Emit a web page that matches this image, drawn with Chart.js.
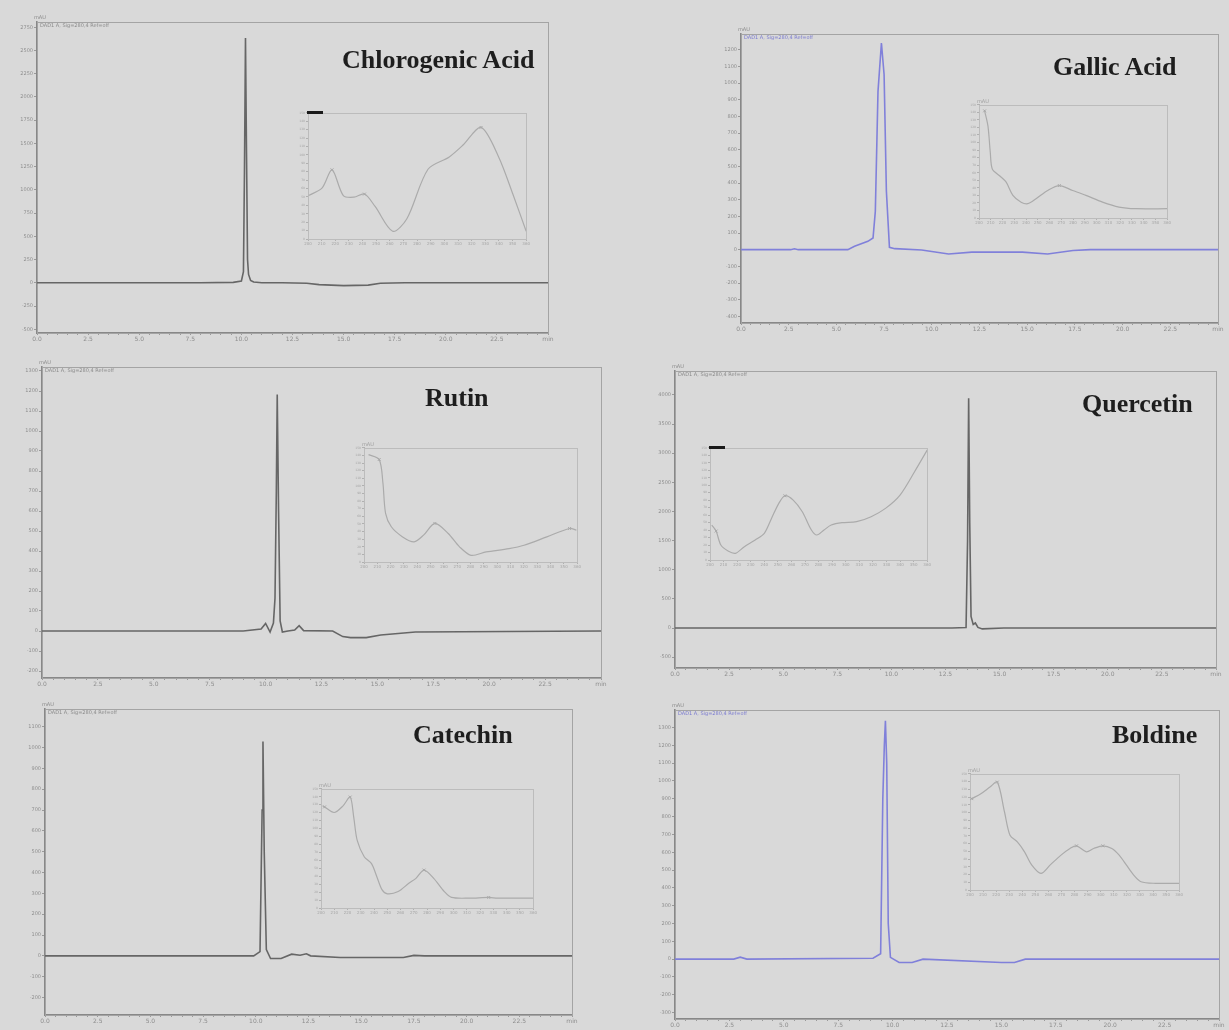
<!DOCTYPE html>
<html><head><meta charset="utf-8">
<script src="https://cdn.jsdelivr.net/npm/chart.js@4.4.1/dist/chart.umd.min.js"></script>
<style>
html,body{margin:0;padding:0;background:#d9d9d9;}
#page{position:relative;width:1229px;height:1030px;background:#d9d9d9;overflow:hidden;}
canvas{position:absolute;}
.title{position:absolute;font-family:"Liberation Serif","Times New Roman",serif;font-weight:bold;font-size:26px;color:#1e1e1e;white-space:nowrap;line-height:1;}
.tiny{position:absolute;font-family:"DejaVu Sans",sans-serif;font-size:5px;color:#8a8a8a;white-space:nowrap;line-height:1;}
.bar{position:absolute;background:#1a1a1a;height:3px;}
</style></head><body><div id="page"></div>
<script>
// ---------------- DATA ----------------
const timeTicksMin = [0, 2.5, 5, 7.5, 10, 12.5, 15, 17.5, 20, 22.5];
const xUnitLabel = 'min';
const yUnitLabel = 'mAU';
const compoundNames = ['Chlorogenic Acid', 'Gallic Acid', 'Rutin', 'Quercetin', 'Catechin', 'Boldine'];

// Chromatograms (retention time in min, signal in mAU)
const chlorogenicTime   = [0, 2, 5, 8, 9.6, 10.0, 10.1, 10.15, 10.2, 10.25, 10.3, 10.35, 10.45, 10.6, 11, 12, 13.2, 13.8, 15, 16.2, 16.8, 18, 25];
const chlorogenicSignal = [0, 0, 0, 0, 5, 20, 120, 1200, 2633, 1400, 250, 90, 25, 8, 0, 0, -5, -20, -30, -25, -5, 0, 0];

const gallicTime   = [0, 2.6, 2.8, 3.0, 5.6, 5.95, 6.65, 6.92, 7.04, 7.18, 7.36, 7.5, 7.62, 7.78, 8.06, 9.47, 10.88, 12.1, 14.75, 16.07, 17.4, 18.3, 25];
const gallicSignal = [0, 0, 5, 0, 0, 20, 50, 70, 230, 950, 1240, 1050, 350, 14, 6, -2, -26, -15, -15, -26, -5, 0, 0];

const rutinTime   = [0, 2.7, 9.0, 9.8, 10.0, 10.2, 10.35, 10.42, 10.48, 10.52, 10.58, 10.65, 10.75, 11.0, 11.3, 11.5, 11.7, 13.0, 13.45, 13.8, 14.5, 15.15, 16.7, 25];
const rutinSignal = [0, 0, 0, 10, 38, -5, 40, 163, 700, 1183, 600, 50, -5, 0, 5, 27, 2, 0, -28, -33, -33, -20, -5, 0];

const quercetinTime   = [0, 12.8, 13.45, 13.52, 13.57, 13.62, 13.68, 13.78, 13.88, 14.0, 14.2, 15.2, 25];
const quercetinSignal = [0, 0, 10, 1500, 3943, 1800, 200, 60, 86, 10, -15, 0, 0];

const catechinTime   = [0, 9.9, 10.2, 10.3, 10.34, 10.4, 10.5, 10.7, 11.2, 11.7, 12.1, 12.4, 12.6, 14, 17, 17.5, 18, 25];
const catechinSignal = [0, 0, 20, 700, 1029, 500, 30, -13, -13, 8, 3, 10, 0, -8, -8, 2, 0, 0];

const boldineTime   = [0, 2.7, 3.0, 3.3, 9.1, 9.45, 9.55, 9.62, 9.67, 9.73, 9.8, 9.9, 10.3, 10.9, 11.4, 15.0, 15.6, 16.1, 25];
const boldineSignal = [0, 0, 11, 0, 5, 30, 900, 1200, 1338, 1100, 200, 10, -19, -19, 0, -19, -19, 0, 0];

// UV spectra insets (wavelength nm, absorbance mAU)
const chlorogenicNm  = [200.5, 210.4, 217.6, 225.9, 233.7, 241.4, 249.2, 262.1, 272.5, 288, 303.6, 313.9, 326.9, 339.8, 350.2, 360];
const chlorogenicAbs = [51.6, 60.8, 82.2, 51.6, 49.7, 53.4, 38.7, 9.2, 24, 82.9, 97.6, 112, 132.6, 97.6, 53.4, 9.2];
const chlorogenicMaxNm = [217.6, 241.4, 326.9];
const chlorogenicMaxAbs = [82.2, 53.4, 132.6];

const gallicNm  = [204.8, 207.6, 209.6, 211.3, 217.5, 223.1, 228.8, 235.8, 241.5, 248.5, 258.4, 268.3, 279.6, 290.9, 305, 319, 333.2, 360];
const gallicAbs = [142, 122, 87, 65, 56, 47.5, 30, 21, 19, 25.5, 36.5, 43, 36.5, 30, 21, 14.5, 12.3, 12.3];
const gallicMaxNm = [204.8, 268.3];
const gallicMaxAbs = [142, 43];

const rutinNm  = [203.4, 211.4, 214.2, 216.2, 220.5, 229, 237.6, 244.7, 253.2, 263.2, 271.7, 280.3, 291.7, 308.8, 320.1, 337.2, 354.3, 359.4];
const rutinAbs = [141, 134.6, 103.7, 64, 46.3, 33, 26.5, 35.3, 50.7, 37.5, 19.9, 8.8, 13.2, 17.6, 22, 33, 44, 41.9];
const rutinMaxNm = [211.4, 253.2, 354.3];
const rutinMaxAbs = [134.6, 50.7, 44];

const quercetinNm  = [201.3, 204.5, 208, 213.3, 218.7, 225.3, 233.3, 240, 245.3, 250.7, 255.2, 261.3, 268, 274.7, 278.7, 284, 289.3, 297.3, 308, 318.7, 329.3, 340, 350.7, 360];
const quercetinAbs = [46.7, 38.7, 20, 12, 8.9, 17.8, 26.7, 35.6, 55.6, 75.7, 85.9, 80.1, 64.5, 40.1, 33.4, 40.1, 46.7, 49.9, 51.2, 57.9, 69, 86.8, 118, 146.9];
const quercetinMaxNm = [204.5, 255.2];
const quercetinMaxAbs = [38.7, 85.9];

const catechinNm  = [201.3, 202.7, 209.9, 216.6, 222, 224.7, 227.3, 232.7, 238.1, 242.1, 246.1, 250.1, 258.2, 266.2, 271.6, 277.7, 285, 293, 298.4, 311.8, 326.5, 333.2, 360];
const catechinAbs = [128.5, 127.2, 120.2, 128.5, 139.6, 114, 85, 64.2, 55.9, 39.4, 22.8, 17.8, 20.7, 31.1, 37.3, 47.7, 37.3, 20.7, 13.3, 12.4, 13.3, 12.4, 12.4];
const catechinMaxNm = [202.7, 222, 277.7, 326.5];
const catechinMaxAbs = [127.2, 139.6, 47.7, 13.3];

const boldineNm  = [201.4, 208.3, 215.3, 220.9, 226.4, 230.6, 236.2, 241.7, 247.3, 254.3, 261.2, 269.6, 276.5, 281.5, 289, 294.6, 301.6, 308.5, 314.1, 319.7, 325.2, 330.8, 341.9, 360];
const boldineAbs = [117.9, 124.3, 132.9, 139.3, 100.7, 70.7, 62.1, 49.3, 32.1, 21.4, 32.1, 45, 53.6, 57, 49.3, 53.6, 57, 53.6, 45, 32.1, 19.3, 10.7, 8.6, 8.6];
const boldineMaxNm = [201.4, 220.9, 281.5, 301.6];
const boldineMaxAbs = [117.9, 139.3, 57, 57];

// Axis ranges (mAU) and tick steps
const signalMin  = [-540, -440, -235, -686, -284, -336];
const signalMax  = [2806, 1294, 1320, 4410, 1185, 1398];
const signalStep = [250, 100, 100, 500, 100, 100];

// ---------------- LAYOUT ----------------
const page = document.getElementById('page');
const GRAY = '#666666', BLUE = '#8080da';
const panels = [
  {name:compoundNames[0], t:chlorogenicTime, y:chlorogenicSignal, color:GRAY, box:[37,22,548,333],
   nm:chlorogenicNm, abs:chlorogenicAbs, mx:chlorogenicMaxNm, my:chlorogenicMaxAbs, ibox:[308,112,527,239], bar:true,
   title:[342,47], legendBlue:false},
  {name:compoundNames[1], t:gallicTime, y:gallicSignal, color:BLUE, box:[741,34,1218,323],
   nm:gallicNm, abs:gallicAbs, mx:gallicMaxNm, my:gallicMaxAbs, ibox:[979,104,1168,218], bar:false,
   title:[1053,54], legendBlue:true},
  {name:compoundNames[2], t:rutinTime, y:rutinSignal, color:GRAY, box:[42,367,601,678],
   nm:rutinNm, abs:rutinAbs, mx:rutinMaxNm, my:rutinMaxAbs, ibox:[364,447,578,562], bar:false,
   title:[425,385], legendBlue:false},
  {name:compoundNames[3], t:quercetinTime, y:quercetinSignal, color:GRAY, box:[675,371,1216,668],
   nm:quercetinNm, abs:quercetinAbs, mx:quercetinMaxNm, my:quercetinMaxAbs, ibox:[710,447,928,560], bar:true,
   title:[1082,391], legendBlue:false},
  {name:compoundNames[4], t:catechinTime, y:catechinSignal, color:GRAY, box:[45,709,572,1015],
   nm:catechinNm, abs:catechinAbs, mx:catechinMaxNm, my:catechinMaxAbs, ibox:[321,788,534,908], bar:false,
   title:[413,722], legendBlue:false},
  {name:compoundNames[5], t:boldineTime, y:boldineSignal, color:BLUE, box:[675,710,1219,1019],
   nm:boldineNm, abs:boldineAbs, mx:boldineMaxNm, my:boldineMaxAbs, ibox:[970,773,1180,890], bar:false,
   title:[1112,722], legendBlue:true}
];

const framePlugin = {
  id:'frame',
  beforeDatasetsDraw(chart, args, opts){
    const {ctx, chartArea:a} = chart;
    ctx.save();
    ctx.strokeStyle = opts.color || '#a0a0a0';
    ctx.lineWidth = opts.width || 1;
    ctx.strokeRect(Math.round(a.left)+0.5, Math.round(a.top)+0.5, Math.round(a.right-a.left), Math.round(a.bottom-a.top));
    ctx.restore();
  }
};

function makeCanvas(box, yW, xH, padT, padR){
  const c = document.createElement('canvas');
  const w = box[2]-box[0]+yW+padR, h = box[3]-box[1]+padT+xH;
  c.width = w; c.height = h;
  c.style.left = (box[0]-yW)+'px'; c.style.top = (box[1]-padT)+'px';
  c.style.width = w+'px'; c.style.height = h+'px';
  page.appendChild(c);
  return c;
}

function addText(cls, txt, x, y, color){
  const d = document.createElement('div');
  d.className = cls; d.textContent = txt;
  d.style.left = x+'px'; d.style.top = y+'px';
  if (color) d.style.color = color;
  page.appendChild(d);
  return d;
}

function stepTicks(min, max, step){
  const out = [];
  for (let v = Math.ceil(min/step)*step; v <= max + 1e-9; v += step) out.push({value: Math.round(v*1000)/1000});
  return out;
}

panels.forEach((p, i) => {
  const yW = 24, xH = 14, padT = 8, padR = 12;
  const c = makeCanvas(p.box, yW, xH, padT, padR);
  new Chart(c, {
    type:'line',
    data:{datasets:[{data:p.t.map((x,k)=>({x, y:p.y[k]})), borderColor:p.color, borderWidth:1.6,
      pointRadius:0, tension:0, fill:false}]},
    options:{
      responsive:false, animation:false,
      layout:{padding:{top:padT, right:padR, left:0, bottom:0}},
      plugins:{legend:{display:false}, tooltip:{enabled:false}, frame:{color:'#a4a4a4'}},
      scales:{
        x:{type:'linear', min:0, max:25,
          afterFit:s=>{s.height = xH;},
          ticks:{stepSize:0.5, autoSkip:false, includeBounds:false, maxRotation:0, minRotation:0,
            font:{size:6, family:'DejaVu Sans'}, color:'#8e8e8e', padding:1,
            callback:v=>{
              const q = v/2.5;
              if (Math.abs(q-Math.round(q))>1e-6) return '';
              if (v >= 25-1e-6) return xUnitLabel;
              const tv = Math.round(q)*2.5;
              return timeTicksMin.includes(tv) ? tv.toFixed(1) : '';
            }},
          grid:{drawOnChartArea:false, tickLength:2, color:'#9a9a9a'},
          border:{color:'#888888', width:1.6}},
        y:{min:signalMin[i], max:signalMax[i],
          afterFit:s=>{s.width = yW;},
          afterBuildTicks:s=>{s.ticks = stepTicks(signalMin[i], signalMax[i], signalStep[i]);},
          ticks:{font:{size:5, family:'DejaVu Sans'}, color:'#8e8e8e', padding:1,
            callback:v=>String(v)},
          grid:{drawOnChartArea:false, tickLength:3, color:'#9a9a9a'},
          border:{color:'#888888', width:1.6}}
      }
    },
    plugins:[framePlugin]
  });
  addText('tiny', yUnitLabel, p.box[0]-3, p.box[1]-7);
  addText('tiny', 'DAD1 A, Sig=280,4 Ref=off', p.box[0]+3, p.box[1]+1, p.legendBlue ? '#7a7ad0' : '#8a8a8a');

  // inset spectrum
  const iyW = 10, ixH = 8, ipadT = 4, ipadR = 4;
  const ic = makeCanvas(p.ibox, iyW, ixH, ipadT, ipadR);
  new Chart(ic, {
    type:'line',
    data:{datasets:[
      {data:p.nm.map((x,k)=>({x, y:p.abs[k]})), borderColor:'#ababab', borderWidth:1.2, pointRadius:0, tension:0.3, fill:false},
      {data:p.mx.map((x,k)=>({x, y:p.my[k]})), showLine:false, pointStyle:'crossRot', pointRadius:2, borderColor:'#999', borderWidth:0.8}
    ]},
    options:{
      responsive:false, animation:false,
      layout:{padding:{top:ipadT, right:ipadR, left:0, bottom:0}},
      plugins:{legend:{display:false}, tooltip:{enabled:false}, frame:{color:'#bcbcbc'}},
      scales:{
        x:{type:'linear', min:200, max:360, afterFit:s=>{s.height = ixH;},
          ticks:{stepSize:10, autoSkip:false, maxRotation:0, font:{size:4, family:'DejaVu Sans'}, color:'#a6a6a6', padding:1},
          grid:{drawOnChartArea:false, tickLength:2, color:'#b0b0b0'},
          border:{color:'#b0b0b0', width:1}},
        y:{min:0, max:150, afterFit:s=>{s.width = iyW;},
          ticks:{stepSize:10, font:{size:3, family:'DejaVu Sans'}, color:'#a6a6a6', padding:1},
          grid:{drawOnChartArea:false, tickLength:2, color:'#b0b0b0'},
          border:{color:'#b0b0b0', width:1}}
      }
    },
    plugins:[framePlugin]
  });
  if (p.bar){
    const b = document.createElement('div');
    b.className = 'bar';
    b.style.left = (p.ibox[0]-1)+'px'; b.style.top = (p.ibox[1]-1)+'px'; b.style.width = '16px';
    page.appendChild(b);
  } else {
    addText('tiny', yUnitLabel, p.ibox[0]-2, p.ibox[1]-5, '#a0a0a0');
  }

  addText('title', p.name, p.title[0], p.title[1]);
});
</script>
</body></html>
